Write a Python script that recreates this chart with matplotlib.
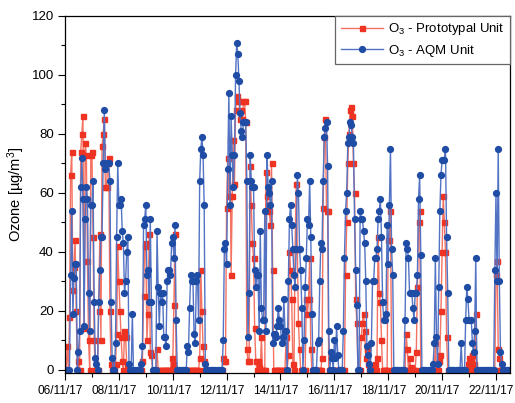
import pandas as pd
import matplotlib
matplotlib.use("Agg")
import matplotlib.pyplot as plt
import matplotlib.dates as mdates
from matplotlib.transforms import ScaledTranslation

plt.rcParams["font.family"] = ["Liberation Sans", "DejaVu Sans"]
plt.rcParams["mathtext.fontset"] = "custom"
plt.rcParams["mathtext.rm"] = "Liberation Sans"
plt.rcParams["mathtext.it"] = "Liberation Sans:italic"

# hourly O3 readings [ug/m3], one row per day starting 06/11/17 00:00
aqm_unit = (
    [0, 0, 0, 0, 0, 32, 54, 19, 31, 36, 36, 0, 6, 13, 62, 72, 58, 15, 51, 62, 58, 26, 13, 56]
    + [56, 64, 23, 4, 2, 0, 23, 34, 45, 45, 70, 88, 68, 70, 70, 70, 64, 23, 4, 0, 0, 9, 45, 70]
    + [56, 56, 58, 47, 43, 26, 30, 40, 45, 2, 0, 0, 19, 0, 0, 0, 0, 0, 0, 0, 2, 8, 49, 51]
    + [56, 32, 34, 23, 51, 23, 0, 0, 0, 0, 47, 28, 15, 26, 23, 26, 11, 11, 8, 30, 34, 34, 32, 43]
    + [45, 38, 49, 17, 0, 0, 0, 0, 0, 0, 0, 0, 0, 8, 6, 21, 32, 30, 30, 12, 9, 30, 32, 17]
    + [64, 75, 79, 73, 56, 2, 0, 0, 0, 0, 0, 0, 0, 0, 0, 0, 0, 0, 0, 0, 0, 10, 41, 43]
    + [36, 68, 94, 56, 86, 73, 62, 73, 100, 111, 107, 98, 87, 81, 79, 84, 84, 84, 64, 11, 26, 73, 64, 62]
    + [62, 34, 28, 32, 32, 13, 47, 21, 17, 17, 54, 13, 73, 62, 60, 56, 64, 9, 12, 12, 11, 15, 21, 17]
    + [15, 9, 11, 24, 13, 13, 0, 30, 51, 56, 49, 41, 32, 28, 41, 66, 60, 41, 34, 21, 0, 10, 28, 38]
    + [51, 49, 64, 45, 19, 0, 0, 0, 0, 9, 10, 30, 43, 41, 64, 79, 82, 84, 69, 13, 0, 6, 4, 0]
    + [10, 4, 15, 5, 0, 0, 0, 0, 13, 38, 54, 60, 77, 79, 84, 83, 79, 77, 51, 34, 22, 0, 0, 54]
    + [51, 51, 47, 43, 30, 8, 5, 2, 0, 9, 30, 30, 38, 38, 41, 51, 54, 58, 45, 23, 17, 17, 19, 49]
    + [36, 56, 75, 41, 32, 0, 0, 0, 0, 0, 0, 0, 0, 0, 0, 17, 43, 41, 38, 26, 26, 26, 21, 17]
    + [26, 26, 32, 58, 66, 39, 0, 0, 0, 0, 0, 0, 0, 0, 0, 0, 2, 9, 38, 11, 2, 28, 54, 66]
    + [71, 71, 71, 75, 45, 26, 0, 0, 0, 0, 0, 0, 0, 0, 0, 0, 0, 9, 0, 0, 0, 17, 28, 24]
    + [17, 17, 17, 9, 6, 13, 38, 0, 0, 0, 0, 0, 0, 0, 0, 0, 0, 0, 0, 0, 0, 0, 0, 34]
    + [60, 30, 75, 30, 6, 2, 0, 0, 0, 0, 0, 0, 0]
)

prototypal_unit = (
    [0, 0, 8, 0, 18, 66, 74, 27, 35, 44, 20, 0, 3, 0, 74, 80, 86, 14, 77, 73, 37, 10, 0, 73]
    + [74, 45, 10, 0, 0, 0, 20, 46, 10, 76, 80, 85, 62, 62, 70, 72, 20, 2, 0, 0, 0, 2, 12, 42]
    + [30, 20, 11, 3, 0, 13, 11, 2, 0, 0, 0, 0, 0, 0, 0, 0, 0, 0, 0, 0, 0, 3, 25, 42]
    + [43, 10, 19, 46, 6, 5, 0, 0, 0, 0, 7, 0, 0, 0, 0, 0, 0, 0, 0, 0, 0, 0, 0, 4]
    + [2, 22, 46, 0, 0, 0, 0, 0, 0, 0, 0, 0, 0, 0, 0, 0, 0, 0, 0, 0, 0, 0, 0, 0]
    + [4, 34, 20, 8, 3, 0, 0, 0, 0, 0, 0, 0, 0, 0, 0, 0, 0, 0, 0, 0, 0, 4, 3, 3]
    + [55, 72, 59, 78, 32, 59, 78, 63, 88, 93, 91, 91, 85, 88, 85, 91, 91, 84, 7, 3, 3, 69, 56, 43]
    + [38, 14, 3, 0, 3, 1, 0, 11, 0, 0, 0, 67, 59, 56, 54, 49, 70, 34, 0, 0, 0, 0, 0, 0]
    + [0, 0, 0, 0, 0, 11, 0, 5, 40, 34, 24, 2, 0, 41, 63, 41, 16, 7, 0, 0, 0, 0, 0, 24]
    + [19, 24, 38, 7, 0, 0, 0, 0, 0, 0, 0, 0, 0, 4, 55, 79, 85, 54, 54, 0, 0, 0, 0, 0]
    + [0, 0, 0, 0, 0, 0, 0, 0, 0, 0, 32, 50, 70, 80, 88, 89, 86, 70, 60, 24, 16, 0, 0, 0]
    + [11, 16, 19, 13, 4, 7, 2, 0, 0, 0, 1, 0, 2, 0, 4, 45, 26, 23, 10, 0, 0, 0, 0, 0]
    + [44, 44, 54, 0, 0, 0, 0, 0, 0, 0, 0, 0, 0, 0, 0, 0, 12, 7, 0, 4, 1, 0, 0, 0]
    + [0, 6, 28, 50, 54, 0, 0, 0, 0, 0, 0, 0, 0, 0, 0, 0, 0, 0, 9, 0, 0, 3, 5, 20]
    + [40, 59, 50, 40, 11, 0, 0, 0, 0, 0, 0, 0, 0, 0, 0, 0, 0, 0, 0, 0, 0, 0, 0, 2]
    + [4, 0, 4, 5, 2, 0, 19, 0, 0, 0, 0, 0, 0, 0, 0, 0, 0, 0, 0, 0, 0, 0, 0, 0]
    + [32, 37, 7, 4, 0, 0, 0, 0, 0, 0, 0, 0, 0]
)

times = pd.date_range("2017-11-06 00:00", periods=len(aqm_unit), freq="h")

fig = plt.figure(figsize=(5.15, 4.03), dpi=100)
ax = fig.add_axes([65 / 515, 30 / 403, 445 / 515, 357 / 403])

ax.plot(times, prototypal_unit, color="#F47262", lw=1.0, marker="s", ms=3.6,
        mfc="#EE3322", mec="#EE3322", label=r"O$_3$ - Prototypal Unit")
ax.plot(times, aqm_unit, color="#5272C4", lw=1.0, marker="o", ms=4.2,
        mfc="#1F4DA5", mec="#1F4DA5", label=r"O$_3$ - AQM Unit")

ax.set_ylim(-1.1, 120)
ax.set_xlim(pd.Timestamp("2017-11-06 00:00"), pd.Timestamp("2017-11-22 12:30"))
ax.set_yticks(range(0, 121, 20))
ax.set_yticks(range(10, 120, 20), minor=True)
ax.xaxis.set_major_locator(mdates.DayLocator(bymonthday=range(6, 23, 2)))
ax.xaxis.set_minor_locator(mdates.DayLocator(bymonthday=range(7, 23, 2)))
ax.xaxis.set_major_formatter(mdates.DateFormatter("%d/%m/%y"))

ax.tick_params(which="major", length=5, width=0.8, labelsize=9.5, pad=3)
ax.tick_params(which="minor", length=3, width=0.8)
ax.tick_params(axis="x", which="major", pad=4, labelsize=8.6)
for s in ax.spines.values():
    s.set_linewidth(0.9)

# date labels sit a little left of their ticks in the original
shift = ScaledTranslation(-4.5 / 100, 0, fig.dpi_scale_trans)
for lbl in ax.get_xticklabels():
    lbl.set_transform(lbl.get_transform() + shift)

ax.set_ylabel("Ozone [µg/m$^3$]", fontsize=10.5, labelpad=3)

leg = ax.legend(loc="upper right", borderaxespad=0, fancybox=False,
                framealpha=1, edgecolor="#666666", fontsize=9.5,
                handlelength=3.2, handletextpad=0.4, borderpad=0.4,
                labelspacing=0.4)
leg.get_frame().set_linewidth(0.9)

fig.savefig("out.png", dpi=100)
